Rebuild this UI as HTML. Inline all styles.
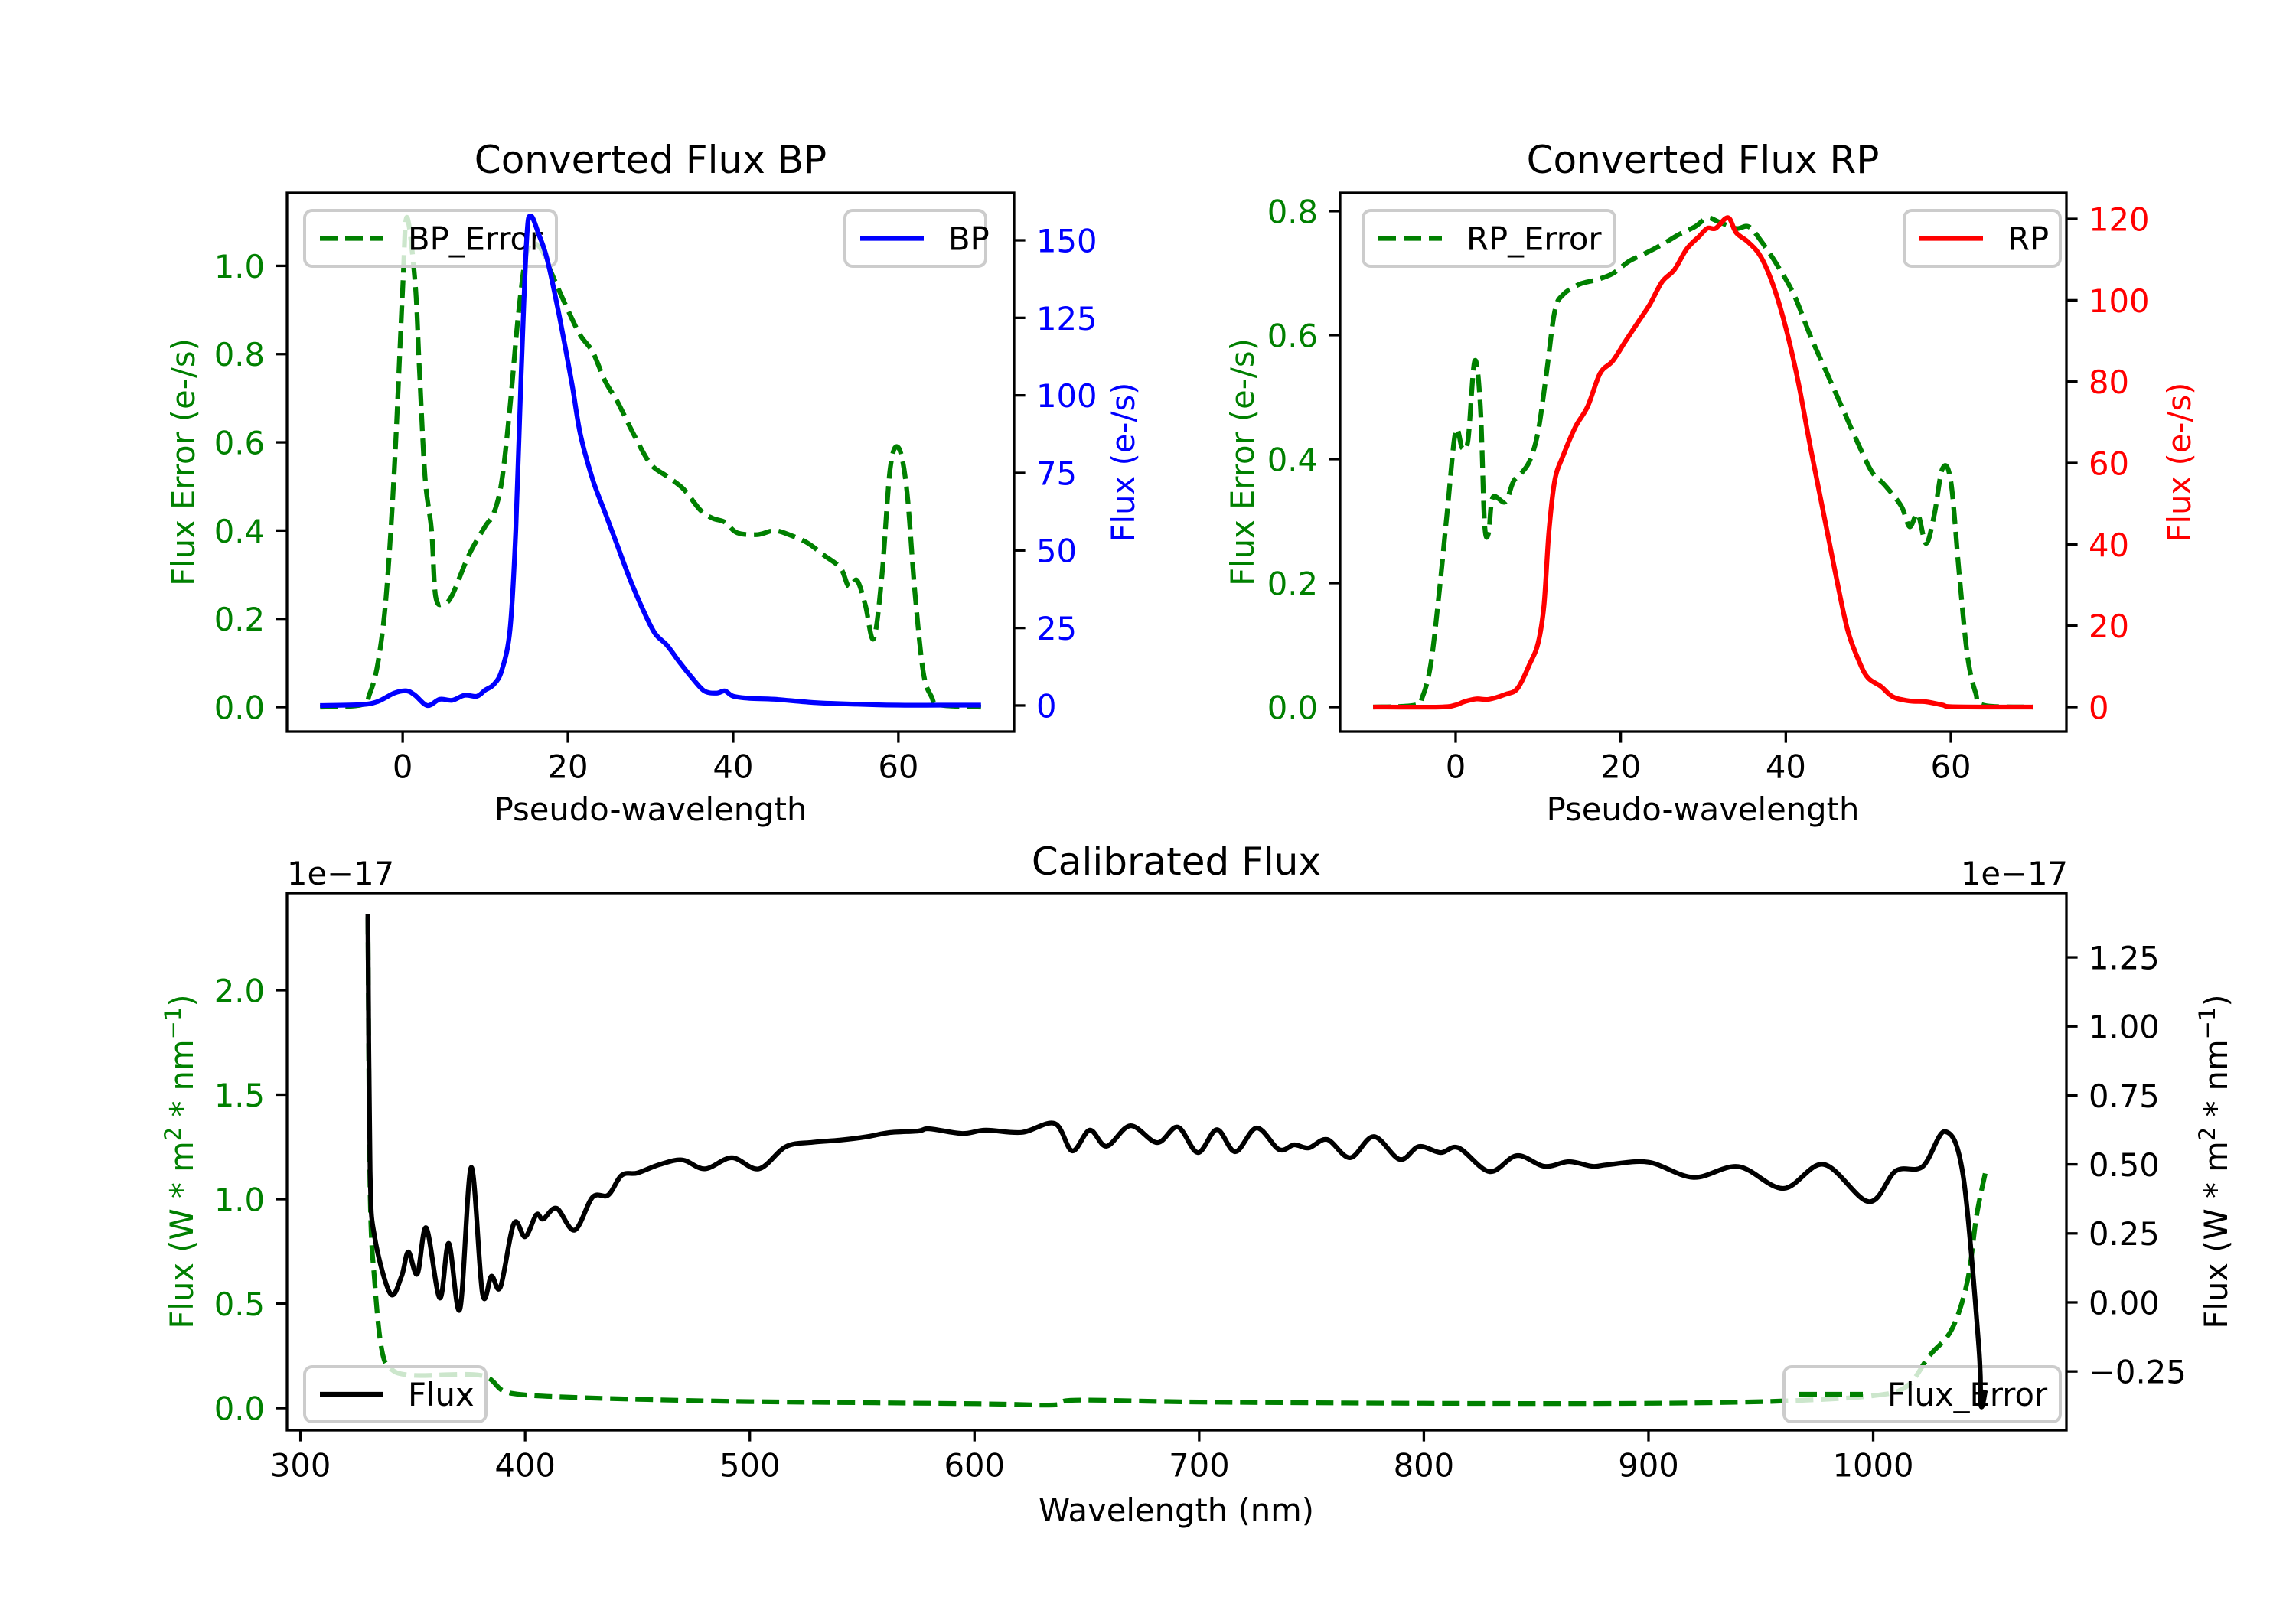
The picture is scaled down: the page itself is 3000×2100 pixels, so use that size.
<!DOCTYPE html>
<html><head><meta charset="utf-8"><style>
html,body{margin:0;padding:0;background:#fff}
svg{display:block;font-family:"DejaVu Sans","Liberation Sans",sans-serif}
</style></head><body>
<svg id="fig" width="3000" height="2100" viewBox="0 0 3000 2100" xmlns="http://www.w3.org/2000/svg">
<rect width="3000" height="2100" fill="#fff"/>
<defs>
<clipPath id="c1"><rect x="375" y="252" width="950" height="704"/></clipPath>
<clipPath id="c2"><rect x="1751" y="252" width="949" height="704"/></clipPath>
<clipPath id="c3"><rect x="375" y="1167" width="2325" height="702"/></clipPath>
</defs>
<g id="root"></g>
</svg>
<script>
// ---- data: Converted Flux BP
const bpX = [-10,-5,-3,-1,0.5,1.5,3,4.5,6,7.5,9,10,11,12,13,13.7,14.3,15,15.5,16.5,17.5,19,20.5,21.5,23,24.5,26,27.5,29,30.5,32,33.5,35,36.5,38,39,40,42,45,50,55,60,65,70];
const bpFlux = [0,0.3,1.3,4,4.7,3.3,0,2,1.7,3.3,3,5,6.7,11.4,24.7,56.8,103.6,150,157.8,151.7,143.7,125,103.6,87.6,72.9,62.2,51.5,40.8,31.4,23.4,19.4,14,9,4.7,4,4.7,3,2.3,2,0.9,0.4,0.1,0.1,0.1];
const bpErrX = [-10,-5,-4,-3,-2,-1,0,0.5,1.5,2,2.7,3.5,4,5,6,8,10,11,12,13,14,15,16,17,18,20,21.5,23,24.5,26,28,30,32,34,36,37.5,39,40.5,43,45,47,49,51,53,54,55,56,57,58,59,60,61,62,63,64,65,70];
const bpErr = [0,0.005,0.03,0.1,0.25,0.54,0.946,1.11,0.965,0.777,0.523,0.4,0.25,0.235,0.254,0.344,0.41,0.438,0.513,0.683,0.89,1.03,1.05,1.03,0.984,0.9,0.843,0.805,0.739,0.692,0.617,0.551,0.523,0.494,0.447,0.428,0.419,0.395,0.391,0.4,0.389,0.372,0.344,0.315,0.273,0.287,0.231,0.155,0.297,0.54,0.588,0.494,0.259,0.08,0.024,0.005,0];
// ---- data: Converted Flux RP
const rpX = [-10,-2,0,1,2.5,4,6,7.5,9,10,10.7,11.3,12,13,14.5,16,17.5,19,20.5,22,23.5,25,26.5,28,29.5,30.5,31.5,33,34,35.5,37,38.5,40,41.5,43,44.5,46,47.5,49,50,51.5,53,55,57,59,60,65,70];
const rpFlux = [0,0,0.5,1.3,2,1.9,3.1,4.6,10.7,15.8,25,43,55.6,61.7,68.8,73.9,82,85,89.7,94.3,98.9,104.5,107.5,112.6,115.7,117.7,117.7,120.3,116.6,114.2,110.6,103.5,93.3,80,63.7,48.4,33.1,18.9,10.7,7.1,5.1,2.5,1.5,1.3,0.5,0.1,0,0];
const rpErrX = [-10,-5,-4,-3,-2,-1,0,0.8,1.5,2.3,3,3.5,4,4.5,6,7,8,9,10,11,12,13,15,17,19,21,23,25,27,29,30.5,32,34,35.5,37,39,41,43,45,47,49,50.5,52,54,55,56,57,58,59,60,61,62,63,64,70];
const rpErr = [0,0.003,0.017,0.07,0.184,0.318,0.445,0.418,0.431,0.558,0.485,0.297,0.281,0.338,0.331,0.364,0.378,0.398,0.445,0.538,0.638,0.665,0.682,0.689,0.699,0.719,0.732,0.746,0.762,0.775,0.789,0.782,0.772,0.775,0.752,0.712,0.665,0.598,0.538,0.478,0.418,0.378,0.358,0.324,0.291,0.311,0.264,0.311,0.385,0.364,0.217,0.084,0.023,0.003,0];
// ---- data: Calibrated Flux (units of 1e-17)
const calWl = [330,331,333,340,345,348,352,356,362,366,371,376,381,385,389,395,400,405,408,414,422,430,437,443,450,460,470,480,492,504,516,528,540,552,562,575,580,594.5,605,621,635.7,643.5,651.3,658.8,669.4,681.3,690.5,699.4,707.9,716.1,725.6,735.5,742.3,748.8,757,767.2,777.7,789.3,797.8,807.4,815.5,829.2,841.4,853.7,864.6,875.1,882,900,920,940,960,978,998,1010,1022,1032,1040,1047,1048,1050];
const calFlux = [1.406,0.476,0.238,0.032,0.095,0.183,0.103,0.27,0.016,0.214,-0.024,0.489,0.032,0.095,0.056,0.286,0.238,0.318,0.302,0.341,0.262,0.381,0.389,0.461,0.469,0.5,0.516,0.484,0.524,0.484,0.564,0.58,0.588,0.6,0.615,0.621,0.629,0.612,0.624,0.616,0.648,0.549,0.624,0.566,0.64,0.579,0.635,0.543,0.626,0.546,0.632,0.554,0.571,0.56,0.59,0.524,0.601,0.518,0.565,0.543,0.56,0.474,0.532,0.493,0.51,0.493,0.499,0.508,0.453,0.492,0.413,0.5,0.365,0.476,0.492,0.619,0.461,-0.159,-0.373,-0.318];
const errWl = [330,331,333,336,340,350,380,390,400,420,450,500,600,635,645,700,800,900,960,1000,1015,1025,1035,1042,1046,1050];
const errVal = [2.35,1.03,0.61,0.29,0.19,0.157,0.157,0.084,0.063,0.052,0.042,0.031,0.021,0.015,0.038,0.029,0.023,0.023,0.034,0.059,0.105,0.25,0.377,0.61,0.92,1.13];
// ---- tick labels
const pseudoTicks = [0,20,40,60];
const bpErrTicks = [0,0.2,0.4,0.6,0.8,1.0];
const bpFluxTicks = [0,25,50,75,100,125,150];
const rpErrTicks = [0,0.2,0.4,0.6,0.8];
const rpFluxTicks = [0,20,40,60,80,100,120];
const wlTicks = [300,400,500,600,700,800,900,1000];
const calErrTicks = [0,0.5,1.0,1.5,2.0];
const calFluxTicks = [-0.25,0,0.25,0.5,0.75,1.0,1.25];

const NS = "http://www.w3.org/2000/svg";
const root = document.getElementById('root');
function el(tag, attrs, parent, text){
  const e = document.createElementNS(NS, tag);
  for (const k in attrs) e.setAttribute(k, attrs[k]);
  if (text !== undefined) e.textContent = text;
  (parent||root).appendChild(e);
  return e;
}
function scale(a0,a1,d0,d1){ return v => a0 + (v-d0)/(d1-d0)*(a1-a0); }
function fmt(v, dec){ let s = v.toFixed(dec); if (v < 0) s = "\u2212" + s.slice(1); return s; }
const FS = 41.7;

function line(xs, ys, X, Y, color, dashed, clip, name){
  const P = xs.map((x,i)=>[X(x), Y(ys[i])]);
  let d = "M" + P[0][0].toFixed(1) + "," + P[0][1].toFixed(1);
  for (let i=0;i<P.length-1;i++){
    const p0 = P[i-1]||P[i], p1 = P[i], p2 = P[i+1], p3 = P[i+2]||P[i+1];
    const c1 = [p1[0]+(p2[0]-p0[0])/6, p1[1]+(p2[1]-p0[1])/6];
    const c2 = [p2[0]-(p3[0]-p1[0])/6, p2[1]-(p3[1]-p1[1])/6];
    d += "C"+c1[0].toFixed(1)+","+c1[1].toFixed(1)+" "+c2[0].toFixed(1)+","+c2[1].toFixed(1)+" "+p2[0].toFixed(1)+","+p2[1].toFixed(1);
  }
  const p = el('path', {d:d, fill:'none', stroke:color, 'stroke-width':6.25, 'stroke-linejoin':'round', 'clip-path':'url(#'+clip+')'});
  if (dashed) p.setAttribute('stroke-dasharray','23 10');
  
  
  return p;
}
function xTicks(ticks, X, yb, dec, name){
  const g = el('g', {});
  
  
  ticks.forEach(t=>{
    el('line',{x1:X(t),x2:X(t),y1:yb,y2:yb+14.6,stroke:'#000','stroke-width':3.3},g);
    const tx = el('text',{x:X(t),y:yb+29+FS*0.76,'font-size':FS,'text-anchor':'middle',fill:'#000'},g,fmt(t,dec));
    
    
  });
}
function yTicks(ticks, Y, xa, side, color, dec, name){
  const g = el('g', {});
  
  
  ticks.forEach(t=>{
    const s = side==='left' ? -1 : 1;
    el('line',{x1:xa,x2:xa+s*14.6,y1:Y(t),y2:Y(t),stroke:'#000','stroke-width':3.3},g);
    const tx = el('text',{x:xa+s*29,y:Y(t)+FS*0.37,'font-size':FS,'text-anchor':side==='left'?'end':'start',fill:color},g,fmt(t,dec));
    
    
  });
}
function frame(x0,y0,x1,y1,name){
  const r = el('rect',{x:x0,y:y0,width:x1-x0,height:y1-y0,fill:'none',stroke:'#000','stroke-width':3.3});
  
  
}
function legend(x0,y0,x1,y1,color,dashed,label,name){
  const g = el('g',{});
  
  
  el('rect',{x:x0,y:y0,width:x1-x0,height:y1-y0,rx:10,fill:'#fff','fill-opacity':0.8,stroke:'#cccccc','stroke-width':4},g);
  const cy = (y0+y1)/2;
  const l = el('line',{x1:x0+20,x2:x0+103,y1:cy,y2:cy,stroke:color,'stroke-width':6.25},g);
  if (dashed) l.setAttribute('stroke-dasharray','23 10');
  el('text',{x:x0+135,y:cy+FS*0.36,'font-size':FS,fill:'#000'},g,label);
}
function text(x,y,str,size,color,anchor,rot,name){
  const attrs = {x:x,y:y,'font-size':size,fill:color,'text-anchor':anchor||'middle'};
  if (rot) attrs.transform = 'rotate(-90 '+x+' '+y+')';
  const t = el('text',attrs,root,str);
  
  
  return t;
}

// ===== Axes 1: BP
{
  const X = scale(375,1325,-14,74);
  const Ye = scale(956,252,-0.0555,1.1655);
  const Yf = scale(956,252,-8.4,165.3);
  line(bpErrX,bpErr,X,Ye,'green',true,'c1','bp-error-line');
  legend(398,275,727,348,'green',true,'BP_Error','bp-error-legend');
  line(bpX,bpFlux,X,Yf,'blue',false,'c1','bp-flux-line');
  legend(1104,275,1288,348,'blue',false,'BP','bp-legend');
  frame(375,252,1325,956,'bp-axes-frame');
  xTicks(pseudoTicks,X,956,0,'bp-x-ticks');
  yTicks(bpErrTicks,Ye,375,'left','green',1,'bp-error-y-ticks');
  yTicks(bpFluxTicks,Yf,1325,'right','blue',0,'bp-flux-y-ticks');
  text(850,226,'Converted Flux BP',50,'#000','middle',false,'bp-title');
  text(850,1072,'Pseudo-wavelength',FS,'#000','middle',false,'bp-x-axis-title');
  text(254,604,'Flux Error (e-/s)',FS,'green','middle',true,'bp-error-y-axis-title');
  text(1482,604,'Flux (e-/s)',FS,'blue','middle',true,'bp-flux-y-axis-title');
}
// ===== Axes 2: RP
{
  const X = scale(1751,2700,-14,74);
  const Ye = scale(956,252,-0.0395,0.8295);
  const Yf = scale(956,252,-6.02,126.4);
  line(rpErrX,rpErr,X,Ye,'green',true,'c2','rp-error-line');
  legend(1781,275,2110,348,'green',true,'RP_Error','rp-error-legend');
  line(rpX,rpFlux,X,Yf,'red',false,'c2','rp-flux-line');
  legend(2488,275,2692,348,'red',false,'RP','rp-legend');
  frame(1751,252,2700,956,'rp-axes-frame');
  xTicks(pseudoTicks,X,956,0,'rp-x-ticks');
  yTicks(rpErrTicks,Ye,1751,'left','green',1,'rp-error-y-ticks');
  yTicks(rpFluxTicks,Yf,2700,'right','red',0,'rp-flux-y-ticks');
  text(2225,226,'Converted Flux RP',50,'#000','middle',false,'rp-title');
  text(2225,1072,'Pseudo-wavelength',FS,'#000','middle',false,'rp-x-axis-title');
  text(1638,604,'Flux Error (e-/s)',FS,'green','middle',true,'rp-error-y-axis-title');
  text(2862,604,'Flux (e-/s)',FS,'red','middle',true,'rp-flux-y-axis-title');
}
// ===== Axes 3: Calibrated
{
  const X = scale(375,2700,294,1086);
  const Ye = scale(1869,1167,-0.106,2.465);
  const Yf = scale(1869,1167,-0.463,1.483);
  line(errWl,errVal,X,Ye,'green',true,'c3','flux-error-line');
  legend(398,1786,635,1858,'#000',false,'Flux','flux-legend');
  legend(2331,1786,2692,1858,'green',true,'Flux_Error','flux-error-legend');
  line(calWl,calFlux,X,Yf,'#000',false,'c3','calibrated-flux-line');
  frame(375,1167,2700,1869,'calibrated-axes-frame');
  xTicks(wlTicks,X,1869,0,'wavelength-x-ticks');
  yTicks(calErrTicks,Ye,375,'left','green',1,'flux-error-y-ticks');
  yTicks(calFluxTicks,Yf,2700,'right','#000',2,'flux-y-ticks');
  text(1537,1143,'Calibrated Flux',50,'#000','middle',false,'calibrated-title');
  text(1537,1988,'Wavelength (nm)',FS,'#000','middle',false,'wavelength-x-axis-title');
  text(375,1156,'1e\u221217',FS,'#000','start',false,'left-offset-text');
  text(2702,1156,'1e\u221217',FS,'#000','end',false,'right-offset-text');
  const l1 = text(252,1518,'',FS,'green','middle',true,'flux-error-y-axis-title');
  l1.innerHTML = 'Flux (W * m<tspan dy="-16" font-size="29">2</tspan><tspan dy="16"> * nm</tspan><tspan dy="-16" font-size="29">\u22121</tspan><tspan dy="16">)</tspan>';
  const l2 = text(2910,1518,'',FS,'#000','middle',true,'flux-y-axis-title');
  l2.innerHTML = 'Flux (W * m<tspan dy="-16" font-size="29">2</tspan><tspan dy="16"> * nm</tspan><tspan dy="-16" font-size="29">\u22121</tspan><tspan dy="16">)</tspan>';
}
</script>
</body></html>
